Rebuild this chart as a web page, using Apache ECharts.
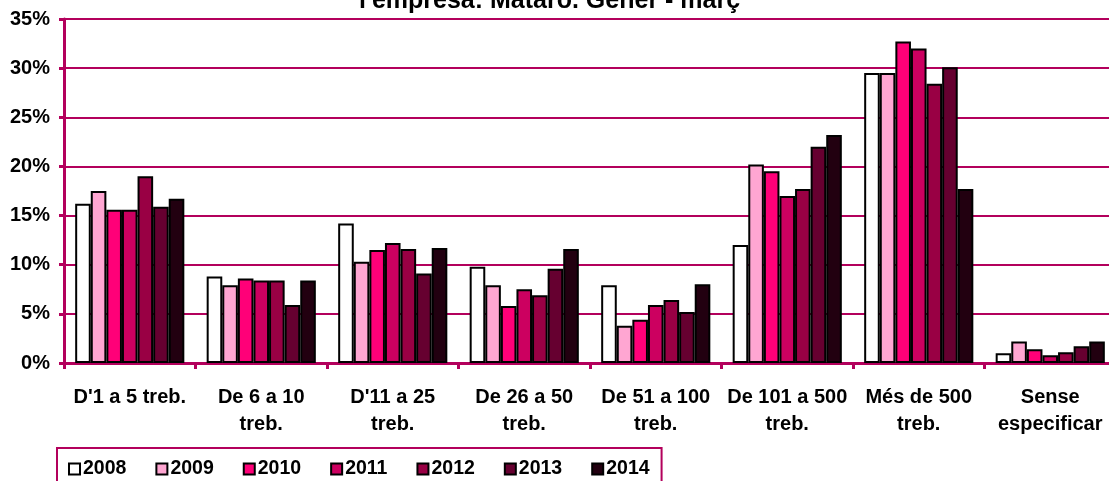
<!DOCTYPE html>
<html>
<head>
<meta charset="utf-8">
<script src="https://cdn.jsdelivr.net/npm/echarts@6/dist/echarts.min.js"></script>
<style>
  html, body { margin: 0; padding: 0; background: #fff; }
  #chart { width: 1109px; height: 481px; }
</style>
</head>
<body>
<div id="chart"></div>
<script>
// Company-size bands (x axis)
const categories = [
  "D'1 a 5 treb.",
  "De 6 a 10\ntreb.",
  "D'11 a 25\ntreb.",
  "De 26 a 50\ntreb.",
  "De 51 a 100\ntreb.",
  "De 101 a 500\ntreb.",
  "Més de 500\ntreb.",
  "Sense\nespecificar"
];

// Share of each band (%) per year
const years = ['2008', '2009', '2010', '2011', '2012', '2013', '2014'];
const v2008 = [16.2, 8.8, 14.2, 9.8, 7.9, 12.0, 29.5, 1.0];
const v2009 = [17.5, 7.9, 10.3, 7.9, 3.8, 20.2, 29.5, 2.2];
const v2010 = [15.6, 8.6, 11.5, 5.8, 4.4, 19.5, 32.7, 1.4];
const v2011 = [15.6, 8.4, 12.2, 7.5, 5.9, 17.0, 32.0, 0.8];
const v2012 = [19.0, 8.4, 11.6, 6.9, 6.4, 17.7, 28.4, 1.1];
const v2013 = [15.9, 5.9, 9.1, 9.6, 5.2, 22.0, 30.1, 1.7];
const v2014 = [16.7, 8.4, 11.7, 11.6, 8.0, 23.2, 17.7, 2.2];
const yearValues = [v2008, v2009, v2010, v2011, v2012, v2013, v2014];

// Y axis range and step (%)
const yMin = 0;
const yMax = 35;
const yStep = 5;

const palette = ['#FFFFFF', '#FFA6D2', '#FF0078', '#CC0060', '#990044', '#660030', '#220010'];
const accent = '#B3005C';
const font = '"Liberation Sans", Arial, sans-serif';

const chart = echarts.init(document.getElementById('chart'), null, { renderer: 'canvas' });

chart.setOption({
  animation: false,
  backgroundColor: '#FFFFFF',
  title: {
    text: "l'empresa: Mataró. Gener - març",
    left: 354,
    top: -16,
    textStyle: { fontFamily: font, fontWeight: 'bold', fontSize: 25, color: '#000' }
  },
  // plot runs a little past the right edge of the canvas
  grid: { left: 64, right: -7, top: 19, bottom: 118, containLabel: false, outerBoundsMode: 'none' },
  legend: {
    data: years,
    left: 57,
    top: 448,
    orient: 'horizontal',
    icon: 'rect',
    itemWidth: 11,
    itemHeight: 11,
    itemGap: 29,
    padding: [11, 12, 30, 11],
    borderColor: accent,
    borderWidth: 2,
    textStyle: { fontFamily: font, fontWeight: 'bold', fontSize: 19.5, color: '#000', padding: [0, 0, 0, -2] }
  },
  xAxis: {
    type: 'category',
    data: categories,
    axisLine: { lineStyle: { color: accent, width: 3 } },
    axisTick: { show: true, alignWithLabel: false, length: 6, lineStyle: { color: accent, width: 3 } },
    axisLabel: {
      interval: 0,
      margin: 21,
      fontFamily: font,
      fontWeight: 'bold',
      fontSize: 20,
      lineHeight: 27,
      color: '#000'
    }
  },
  yAxis: {
    type: 'value',
    min: yMin,
    max: yMax,
    interval: yStep,
    axisLine: { show: true, lineStyle: { color: accent, width: 3 } },
    axisTick: { show: true, length: 5, lineStyle: { color: accent, width: 3 } },
    splitLine: { show: true, lineStyle: { color: accent, width: 2 } },
    axisLabel: {
      formatter: '{value}%',
      margin: 14,
      fontFamily: font,
      fontWeight: 'bold',
      fontSize: 20,
      color: '#000'
    }
  },
  series: years.map((y, i) => ({
    name: y,
    type: 'bar',
    data: yearValues[i],
    barGap: '0%',
    barCategoryGap: '17%',
    itemStyle: { color: palette[i], borderColor: '#000', borderWidth: 2 }
  }))
});
</script>
</body>
</html>
